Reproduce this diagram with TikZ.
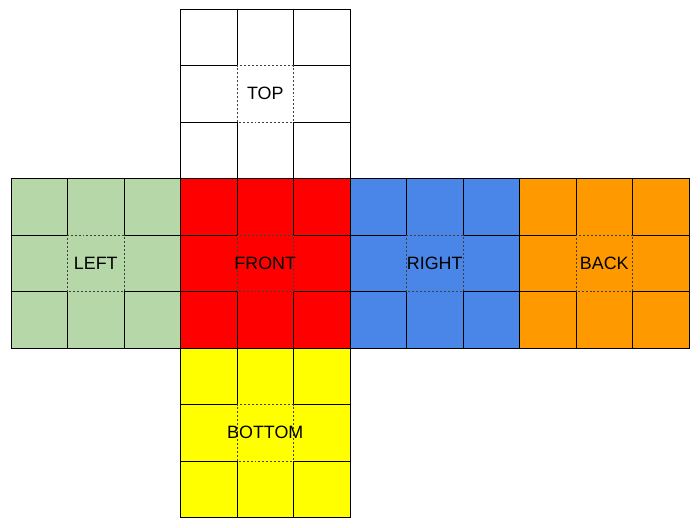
\documentclass[tikz,border=0pt]{standalone}
\usepackage{fontspec}
\setmainfont{Liberation Sans}

\definecolor{facegreen}{HTML}{B6D7A8}
\definecolor{facered}{HTML}{FF0000}
\definecolor{faceblue}{HTML}{4A86E8}
\definecolor{faceorange}{HTML}{FF9900}
\definecolor{faceyellow}{HTML}{FFFF00}

\tikzset{
  grid line/.style={draw=black, line width=0.5pt},
  mid cell/.style={draw=black!75, line width=0.4pt, dash pattern=on 1pt off 1pt},
  face label/.style={font=\fontsize{9}{11}\selectfont, inner sep=0pt}
}

% one face of the cube net: x, y, colour, node name, label
\newcommand{\cubeface}[5]{%
  \begin{scope}[shift={(#1,#2)}]
    \fill[#3] (0,0) rectangle (3,3);
    \foreach \k in {1,2} {
      \draw[grid line] (\k,0) -- (\k,1) (\k,2) -- (\k,3);
      \draw[grid line] (0,\k) -- (1,\k) (2,\k) -- (3,\k);
    }
    \draw[mid cell] (1,1) rectangle (2,2);
    \draw[grid line] (0,0) rectangle (3,3);
    \node[face label] (#4) at (1.5,1.5) {#5};
  \end{scope}}

\begin{document}
\begin{tikzpicture}
  \useasboundingbox (-0.195,-0.177) rectangle (12.195,9.16);

  \cubeface{3}{6}{white}{top}{TOP}
  \cubeface{0}{3}{facegreen}{left}{LEFT}
  \cubeface{3}{3}{facered}{front}{FRONT}
  \cubeface{6}{3}{faceblue}{right}{RIGHT}
  \cubeface{9}{3}{faceorange}{back}{BACK}
  \cubeface{3}{0}{faceyellow}{bottom}{BOTTOM}
\end{tikzpicture}
\end{document}
